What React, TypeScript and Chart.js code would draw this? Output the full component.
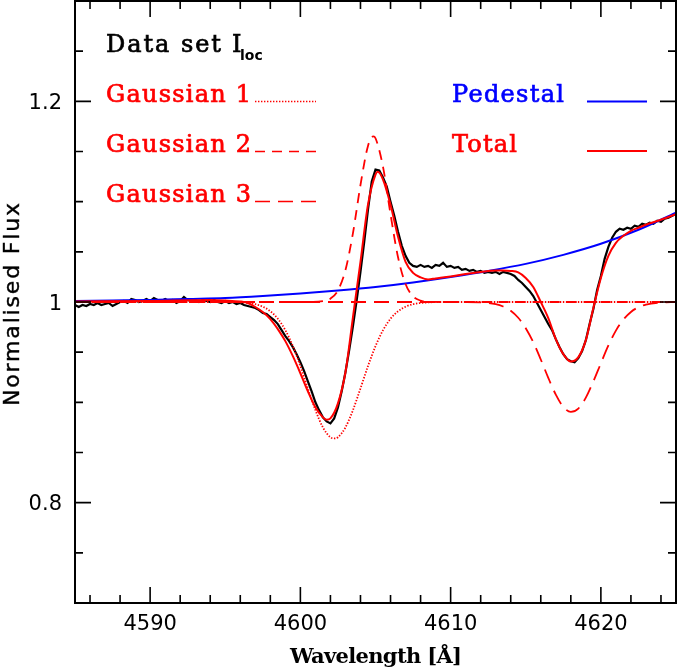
import React, { useEffect, useRef } from "react";
import { Chart, registerables } from "chart.js";

Chart.register(...registerables);

// ---------- data ----------
const dataStart = 4585;
const dataStep = 0.25;
const dataFlux = [
  0.997, 0.995, 0.997, 0.996,
  0.998, 0.997, 0.999, 0.997,
  0.998, 0.999, 0.996, 0.998,
  1.000, 1.001, 0.999, 1.003,
  1.002, 1.000, 1.001, 1.003,
  1.001, 1.004, 1.002, 1.001,
  1.003, 1.001, 1.002, 0.999,
  1.001, 1.005, 1.002, 1.001,
  1.002, 1.000, 1.002, 1.001,
  1.000, 1.002, 1.000, 0.999,
  1.001, 0.999, 1.000, 0.998,
  0.999, 0.997, 0.996, 0.995,
  0.994, 0.992, 0.989, 0.988,
  0.985, 0.982, 0.978, 0.972,
  0.966, 0.961, 0.955, 0.948,
  0.940, 0.931, 0.921, 0.911,
  0.900, 0.892, 0.885, 0.881,
  0.879, 0.884, 0.895, 0.911,
  0.930, 0.952, 0.976, 1.002,
  1.030, 1.060, 1.092, 1.120,
  1.132, 1.131, 1.124, 1.115,
  1.100, 1.086, 1.070, 1.056,
  1.046, 1.039, 1.036, 1.035,
  1.037, 1.035, 1.036, 1.034,
  1.037, 1.036, 1.039, 1.035,
  1.036, 1.034, 1.035, 1.032,
  1.033, 1.031, 1.032, 1.030,
  1.031, 1.029, 1.030, 1.029,
  1.030, 1.028, 1.030, 1.029,
  1.028, 1.026, 1.022, 1.019,
  1.015, 1.011, 1.006, 0.999,
  0.992, 0.985, 0.978, 0.972,
  0.963, 0.955, 0.948, 0.943,
  0.941, 0.940, 0.944, 0.951,
  0.962, 0.978, 0.993, 1.012,
  1.026, 1.043, 1.055, 1.064,
  1.070, 1.073, 1.072, 1.074,
  1.073, 1.076, 1.075, 1.078,
  1.077, 1.079, 1.078, 1.081,
  1.080, 1.083, 1.084, 1.086,
  1.088,
];

const pedestalWave = [4585, 4587.5, 4590, 4592.5, 4595, 4597.5, 4600, 4602.5, 4605, 4607.5, 4610, 4612.5, 4615, 4617.5, 4620, 4622.5, 4625];
const pedestalFlux = [1.001, 1.0015, 1.002, 1.003, 1.004, 1.006, 1.0085, 1.0115, 1.015, 1.0195, 1.025, 1.031, 1.038, 1.047, 1.058, 1.072, 1.089];

const totalWave = [4585, 4590, 4594, 4595, 4596, 4596.5, 4597, 4597.5, 4598, 4598.5, 4599, 4599.5, 4600, 4600.5, 4601, 4601.5, 4601.75, 4602, 4602.5, 4603, 4603.5, 4604, 4604.5, 4605, 4605.15, 4605.5, 4606, 4606.5, 4607, 4607.5, 4608, 4608.5, 4609, 4610, 4611, 4612, 4613, 4613.5, 4614, 4614.5, 4615, 4615.5, 4616, 4616.5, 4617, 4617.5, 4618, 4618.5, 4619, 4619.5, 4620, 4620.5, 4621, 4621.5, 4622, 4622.5, 4623, 4624, 4625];
const totalFlux = [1.0005, 1.001, 1.002, 1.0015, 1.0005, 0.999, 0.995, 0.990, 0.983, 0.973, 0.961, 0.946, 0.929, 0.911, 0.895, 0.885, 0.8826, 0.884, 0.899, 0.930, 0.985, 1.040, 1.097, 1.127, 1.1297, 1.122, 1.097, 1.065, 1.040, 1.029, 1.0245, 1.0225, 1.0235, 1.0255, 1.028, 1.030, 1.0315, 1.0315, 1.031, 1.0295, 1.024, 1.015, 1.000, 0.984, 0.963, 0.948, 0.9406, 0.945, 0.962, 0.994, 1.024, 1.046, 1.059, 1.066, 1.071, 1.074, 1.077, 1.082, 1.0876];

const g1Wave = [4585, 4595, 4596, 4597, 4597.5, 4598, 4598.5, 4599, 4599.5, 4600, 4600.5, 4601, 4601.5, 4602, 4602.25, 4602.5, 4603, 4603.5, 4604, 4604.5, 4605, 4605.5, 4606, 4606.5, 4607, 4607.5, 4608.5, 4609.5, 4625];
const g1Flux = [1.0, 1.0, 0.9996, 0.9978, 0.9953, 0.9908, 0.9833, 0.9719, 0.956, 0.9361, 0.9139, 0.8923, 0.875, 0.8652, 0.864, 0.8652, 0.875, 0.8923, 0.9139, 0.9361, 0.956, 0.9719, 0.9833, 0.9908, 0.9953, 0.9978, 0.9996, 1.0, 1.0];

const g2Wave = [4585, 4600.5, 4601.5, 4602, 4602.5, 4603, 4603.5, 4604, 4604.5, 4604.85, 4605, 4605.5, 4606, 4606.5, 4607, 4607.5, 4608, 4608.5, 4609.5, 4625];
const g2Flux = [1.0, 1.0, 1.0008, 1.0033, 1.0116, 1.0318, 1.0687, 1.1166, 1.1556, 1.165, 1.1632, 1.1347, 1.0874, 1.0446, 1.0179, 1.0056, 1.0014, 1.0003, 1.0, 1.0];

const g3Wave = [4585, 4611, 4612, 4613, 4613.5, 4614, 4614.5, 4615, 4615.5, 4616, 4616.5, 4617, 4617.5, 4618, 4618.5, 4619, 4619.5, 4620, 4620.5, 4621, 4621.5, 4622, 4622.5, 4623, 4624, 4625];
const g3Flux = [1.0, 1.0, 0.9996, 0.9979, 0.9955, 0.9913, 0.9843, 0.9739, 0.9599, 0.9427, 0.9244, 0.9077, 0.8955, 0.8905, 0.8938, 0.9047, 0.9208, 0.9389, 0.9567, 0.9715, 0.9825, 0.9901, 0.9948, 0.9975, 0.9995, 1.0];

const xMajorTicks = [4590, 4600, 4610, 4620];
const xMinorStep = 2;
const yMajorTicks = [0.8, 1, 1.2];
const yTickLabels = ["0.8", "1", "1.2"];
const yMinorStep = 0.05;
const xMin = 4585, xMax = 4625, yMin = 0.7, yMax = 1.3;

const RED = "#ff0000";
const BLUE = "#0000ff";
const G1_DASH = [1.4, 1.6];
const G2_DASH = [10, 7];
const G3_DASH = [15, 8];

const pts = (w: number[], f: number[]) => w.map((x, i) => ({ x, y: f[i] }));

// draw text stretched (via letter spacing) to a target width
function fitText(ctx: CanvasRenderingContext2D, text: string, x: number, y: number, font: string, target: number, color: string, thicken = 0) {
  ctx.save();
  ctx.font = font;
  (ctx as any).letterSpacing = "0px";
  const w = ctx.measureText(text).width;
  const sp = (target - w) / Math.max(1, text.length - 1);
  (ctx as any).letterSpacing = `${sp}px`;
  ctx.fillStyle = color;
  ctx.strokeStyle = color;
  ctx.textAlign = "left";
  ctx.textBaseline = "alphabetic";
  ctx.fillText(text, x, y);
  if (thicken > 0) {
    ctx.lineWidth = thicken;
    ctx.strokeText(text, x, y);
  }
  ctx.restore();
}

function sample(ctx: CanvasRenderingContext2D, x0: number, x1: number, y: number, color: string, dash: number[], lw: number) {
  ctx.save();
  ctx.strokeStyle = color;
  ctx.lineWidth = lw;
  ctx.setLineDash(dash);
  ctx.beginPath();
  ctx.moveTo(x0, y);
  ctx.lineTo(x1, y);
  ctx.stroke();
  ctx.restore();
}

const LEG = '24px "DejaVu Serif"';
const TH = 0.7;

const framePlugin = {
  id: "frame",
  afterDraw(chart: any) {
    const ctx: CanvasRenderingContext2D = chart.ctx;
    const { left, right, top, bottom } = chart.chartArea;
    const xs = chart.scales.x;
    const ys = chart.scales.y;
    ctx.save();
    ctx.strokeStyle = "#000";
    ctx.lineWidth = 2;
    ctx.strokeRect(left, top, right - left, bottom - top);
    ctx.lineWidth = 1.6;
    ctx.beginPath();
    const MAJ = 16, MIN = 8;
    for (let v = xMin + 1; v < xMax; v += xMinorStep) {
      const isMaj = xMajorTicks.includes(v);
      const L = isMaj ? MAJ : MIN;
      const px = xs.getPixelForValue(v);
      ctx.moveTo(px, bottom); ctx.lineTo(px, bottom - L);
      ctx.moveTo(px, top); ctx.lineTo(px, top + L);
    }
    for (let k = 1; k < Math.round((yMax - yMin) / yMinorStep); k++) {
      const v = yMin + k * yMinorStep;
      const isMaj = yMajorTicks.some((m) => Math.abs(m - v) < 1e-6);
      const L = isMaj ? MAJ : MIN;
      const py = ys.getPixelForValue(v);
      ctx.moveTo(left, py); ctx.lineTo(left + L, py);
      ctx.moveTo(right, py); ctx.lineTo(right - L, py);
    }
    ctx.stroke();

    // tick labels
    ctx.fillStyle = "#000";
    ctx.font = '21px "DejaVu Sans"';
    ctx.textAlign = "center";
    ctx.textBaseline = "alphabetic";
    xMajorTicks.forEach((v) => {
      ctx.fillText(String(v), xs.getPixelForValue(v), 630);
    });
    ctx.textAlign = "right";
    yMajorTicks.forEach((v, i) => {
      ctx.fillText(yTickLabels[i], 62, ys.getPixelForValue(v) + 7.6);
    });
    ctx.restore();

    // axis titles
    fitText(ctx, "Wavelength [Å]", 290, 663, 'bold 21px "DejaVu Serif"', 172, "#000");
    ctx.save();
    ctx.translate(19, 406);
    ctx.rotate(-Math.PI / 2);
    fitText(ctx, "Normalised Flux", 0, 0, '22px "DejaVu Sans"', 203, "#000", 0.4);
    ctx.restore();

    // legend
    fitText(ctx, "Data set", 106, 52, LEG, 115, "#000", TH);
    fitText(ctx, "I", 232, 52, LEG, 7, "#000", TH);
    ctx.save();
    ctx.font = 'bold 14px "DejaVu Sans"';
    ctx.fillStyle = "#000";
    ctx.textAlign = "left";
    ctx.fillText("loc", 240, 60);
    ctx.restore();

    fitText(ctx, "Gaussian 1", 106, 102, LEG, 145, RED, TH);
    sample(ctx, 255, 316, 101.5, RED, G1_DASH, 1.6);
    fitText(ctx, "Gaussian 2", 106, 152, LEG, 145, RED, TH);
    sample(ctx, 255, 316, 151.5, RED, G2_DASH, 1.6);
    fitText(ctx, "Gaussian 3", 106, 202, LEG, 145, RED, TH);
    sample(ctx, 255, 316, 201.5, RED, G3_DASH, 1.6);

    fitText(ctx, "Pedestal", 452, 102, LEG, 112, BLUE, TH);
    sample(ctx, 587, 647, 101.5, BLUE, [], 2);
    fitText(ctx, "Total", 452, 152, LEG, 65, RED, TH);
    sample(ctx, 587, 647, 151, RED, [], 2);
  },
};

export default function App() {
  const ref = useRef<HTMLCanvasElement>(null);
  useEffect(() => {
    const dataPts = dataFlux.map((y, i) => ({ x: dataStart + i * dataStep, y }));
    const common = { pointRadius: 0, fill: false, cubicInterpolationMode: "monotone" as const };
    const chart = new Chart(ref.current!, {
      type: "line",
      data: {
        datasets: [
          { label: "Total", data: pts(totalWave, totalFlux), borderColor: RED, borderWidth: 2, ...common },
          { label: "Gaussian 1", data: pts(g1Wave, g1Flux), borderColor: RED, borderWidth: 1.8, borderDash: G1_DASH, ...common },
          { label: "Gaussian 2", data: pts(g2Wave, g2Flux), borderColor: RED, borderWidth: 1.8, borderDash: G2_DASH, ...common },
          { label: "Gaussian 3", data: pts(g3Wave, g3Flux), borderColor: RED, borderWidth: 1.8, borderDash: G3_DASH, ...common },
          { label: "Pedestal", data: pts(pedestalWave, pedestalFlux), borderColor: BLUE, borderWidth: 2, ...common },
          { label: "Data set Iloc", data: dataPts, borderColor: "#000", borderWidth: 2.2, pointRadius: 0, fill: false, tension: 0 },
        ],
      },
      options: {
        animation: false,
        responsive: true,
        maintainAspectRatio: false,
        devicePixelRatio: 1,
        layout: { padding: { left: 75, right: 2, top: 1, bottom: 65 } },
        scales: {
          x: { type: "linear", min: xMin, max: xMax, display: false },
          y: { type: "linear", min: yMin, max: yMax, display: false },
        },
        plugins: { legend: { display: false }, tooltip: { enabled: false } },
      },
      plugins: [framePlugin],
    });
    return () => chart.destroy();
  }, []);
  return (
    <div style={{ position: "fixed", left: 0, top: 0, width: 678, height: 668, background: "#fff" }}>
      <canvas ref={ref} />
    </div>
  );
}
